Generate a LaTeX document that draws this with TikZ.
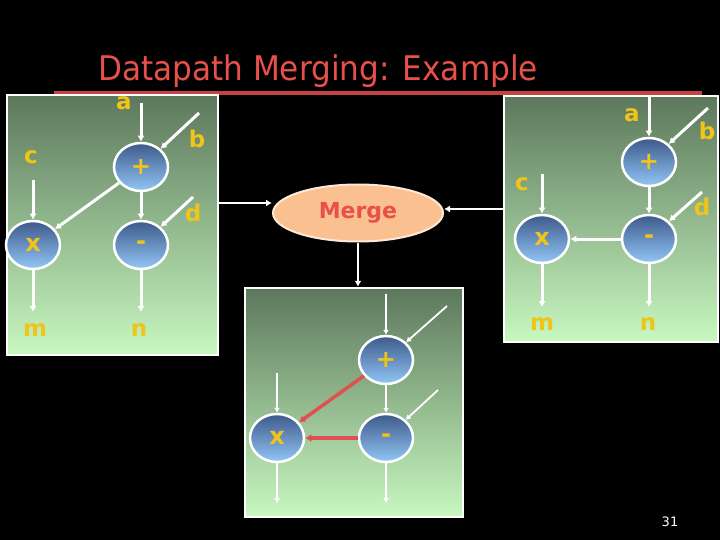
\documentclass[tikz,border=0pt]{standalone}
\usepackage{fontspec}
\setmainfont{DejaVu Sans}
\usetikzlibrary{arrows.meta,shapes.geometric,calc}
\definecolor{titlered}{HTML}{E8504A}
\definecolor{labyellow}{HTML}{F0C419}
\definecolor{boxtop}{RGB}{92,120,92}
\definecolor{boxbot}{RGB}{200,248,192}
\definecolor{optop}{HTML}{3D5A8A}
\definecolor{opbot}{HTML}{92C6F6}
\definecolor{mergefill}{HTML}{FAC08F}
\definecolor{mergeedge}{HTML}{FDE9D9}
\definecolor{redarrow}{HTML}{E05050}
\tikzset{
  panel/.style={rectangle, draw=white, line width=2.5, top color=boxtop, bottom color=boxbot, inner sep=0},
  opnode/.style={ellipse, draw=white, line width=2.5, top color=optop, bottom color=opbot,
    minimum width=54, minimum height=48, inner sep=0, text=labyellow, font=\fontsize{24}{26}\selectfont\bfseries},
  lab/.style={text=labyellow, font=\fontsize{23}{26}\selectfont\bfseries, inner sep=0},
  warr/.style={draw=white, line width=3, -{Latex[length=6,width=7]}},
  tarr/.style={draw=white, line width=1.8, -{Latex[length=5,width=6]}},
  rarr/.style={draw=redarrow, line width=3.5, -{Latex[length=6,width=8]}}
}
\begin{document}
\begin{tikzpicture}[x=1pt,y=-1pt]
\fill[black] (0,0) rectangle (720,540);
\useasboundingbox (0,0) rectangle (720,540);

% title
\node[anchor=base west, text=titlered, inner sep=0, font=\fontsize{34}{38}\selectfont] (title) at (98,81) {\scalebox{0.915}[1]{Datapath Merging: Example}};
\draw[titlered!85!black, line width=4] (54,93) -- (702,93);

% panels
\node[panel, minimum width=211, minimum height=260] (boxL) at (112.5,225) {};
\node[panel, minimum width=214, minimum height=246] (boxR) at (611,219) {};
\node[panel, minimum width=218, minimum height=229] (boxB) at (354,402.5) {};

% merge
\node[ellipse, fill=mergefill, draw=mergeedge, line width=2, minimum width=170, minimum height=57, inner sep=0,
  text=titlered, font=\fontsize{22}{24}\selectfont\bfseries] (merge) at (358,213) {Merge};
\draw[warr, line width=2] (boxL.east |- 0,203) -- (merge.west |- 0,203);
\draw[warr, line width=2] (boxR.west |- 0,209) -- (merge.east |- 0,209);
\draw[warr, line width=2] (merge.south) -- (merge.south |- boxB.north);

% left graph
\node[opnode] (plusL) at (141,167) {+};
\node[opnode] (minusL) at (141,245) {-};
\node[opnode] (xL) at (33,245) {x};
\node[lab] (aL) at (124,103) {a};
\node[lab] (bL) at (197,139) {b};
\node[lab] (cL) at (31,157) {c};
\node[lab] (dL) at (193,213) {d};
\node[lab] (mL) at (35,330) {m};
\node[lab] (nL) at (139,330) {n};
\coordinate (aLs) at (141,103);
\coordinate (bLs) at (199,113);
\coordinate (cLs) at (33,180);
\coordinate (dLs) at (193,197);
\coordinate (mLe) at (33,312);
\coordinate (nLe) at (141,312);
\draw[warr] (aLs) -- (plusL);
\draw[warr] (bLs) -- (plusL);
\draw[warr] (cLs) -- (xL);
\draw[warr] (plusL) -- (xL);
\draw[warr] (plusL) -- (minusL);
\draw[warr] (dLs) -- (minusL);
\draw[warr] (xL) -- (mLe);
\draw[warr] (minusL) -- (nLe);

% right graph
\node[opnode] (plusR) at (649,162) {+};
\node[opnode] (minusR) at (649,239) {-};
\node[opnode] (xR) at (542,239) {x};
\node[lab] (aR) at (632,115) {a};
\node[lab] (bR) at (707,131) {b};
\node[lab] (cR) at (522,184) {c};
\node[lab] (dR) at (702,207) {d};
\node[lab] (mR) at (542,324) {m};
\node[lab] (nR) at (648,324) {n};
\coordinate (aRs) at (649,96);
\coordinate (bRs) at (708,108);
\coordinate (cRs) at (542,174);
\coordinate (dRs) at (702,192);
\coordinate (mRe) at (542,307);
\coordinate (nRe) at (649,307);
\draw[warr] (aRs) -- (plusR);
\draw[warr] (bRs) -- (plusR);
\draw[warr] (cRs) -- (xR);
\draw[warr] (plusR) -- (minusR);
\draw[warr] (dRs) -- (minusR);
\draw[warr] (minusR) -- (xR);
\draw[warr] (xR) -- (mRe);
\draw[warr] (minusR) -- (nRe);

% merged graph
\node[opnode] (plusB) at (386,360) {+};
\node[opnode] (minusB) at (386,438) {-};
\node[opnode] (xB) at (277,438) {x};
\coordinate (in1) at (386,294);
\coordinate (in2) at (447,306);
\coordinate (in3) at (277,373);
\coordinate (in4) at (438,390);
\coordinate (outx) at (277,503);
\coordinate (outm) at (386,503);
\draw[tarr] (in1) -- (plusB);
\draw[tarr] (in2) -- (plusB);
\draw[tarr] (in3) -- (xB);
\draw[tarr] (plusB) -- (minusB);
\draw[tarr] (in4) -- (minusB);
\draw[rarr] (plusB) -- (xB);
\draw[rarr] (minusB) -- (xB);
\draw[tarr] (xB) -- (outx);
\draw[tarr] (minusB) -- (outm);

\node[text=white, font=\fontsize{13}{15}\selectfont] (pg) at (670,522) {31};
\end{tikzpicture}
\end{document}
